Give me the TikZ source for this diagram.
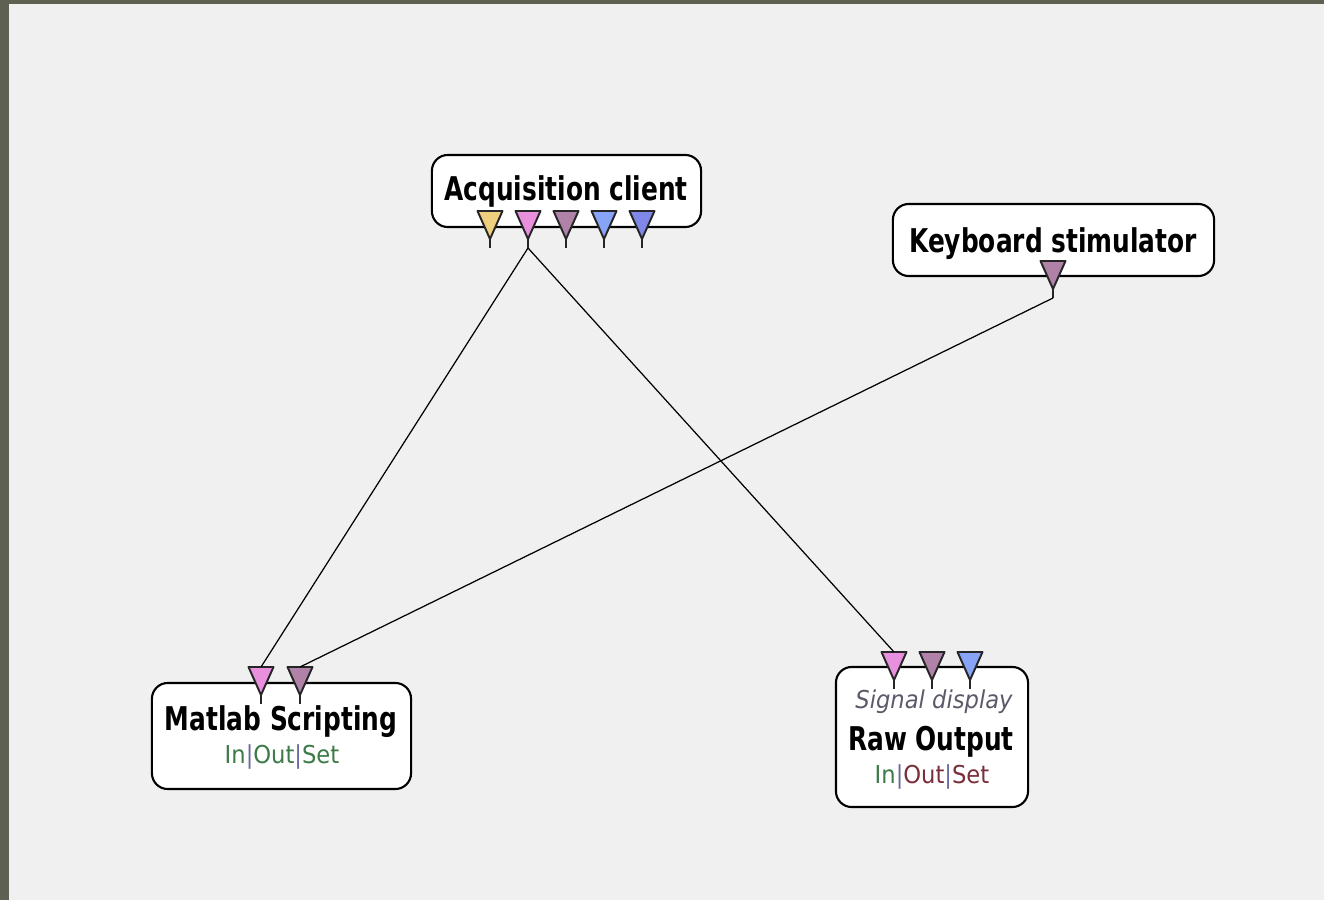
\documentclass[tikz,border=0pt]{standalone}
\usepackage{fontspec}
\newfontfamily\boxfont[FakeStretch=0.76]{DejaVu Sans}
\newfontfamily\tagfont[FakeStretch=0.92]{DejaVu Sans}
\definecolor{frame}{HTML}{5E6052}
\definecolor{canvas}{HTML}{F0F0F0}
\definecolor{sockyellow}{HTML}{EDCF7E}
\definecolor{sockpink}{HTML}{E890DE}
\definecolor{sockmauve}{HTML}{B082A8}
\definecolor{socksky}{HTML}{88A4F6}
\definecolor{sockblue}{HTML}{7F88E8}
\definecolor{tagok}{HTML}{3C7A48}
\definecolor{tagmod}{HTML}{7A2E3A}
\definecolor{tagbar}{HTML}{6A6AA0}
\definecolor{subgray}{HTML}{5A5A6A}
\tikzset{
  blockbox/.style={draw=black,line width=0.6pt,fill=white,rounded corners=4.5pt,inner sep=0pt},
  boxtitle/.style={font=\boxfont\bfseries\fontsize{9.3}{10}\selectfont,inner sep=0pt,anchor=base},
  boxtag/.style={font=\tagfont\fontsize{7}{8}\selectfont,inner sep=0pt,anchor=base},
  link/.style={draw=black,line width=0.35pt}
}
\newcommand{\sock}[4]{% name, x, top y, colour
  \filldraw[fill=#4,draw=black!85,line width=0.55pt,line join=round]
    (#2-12.5,#3) -- (#2+12.5,#3) -- (#2,#3+28) -- cycle;
  \draw[black!85,line width=0.5pt] (#2,#3+28) -- (#2,#3+37);
  \coordinate (#1-top) at (#2,#3);
  \coordinate (#1-end) at (#2,#3+37);
}
\newcommand{\ports}[2]{% colour of In, colour of Out and Set
  \textcolor{#1}{In}\textcolor{tagbar}{|}\textcolor{#2}{Out}\textcolor{tagbar}{|}\textcolor{#2}{Set}}
\begin{document}
\begin{tikzpicture}[x=0.01cm,y=-0.01cm]
  \fill[frame] (0,0) rectangle (1324,900);
  \fill[canvas] (9,4) rectangle (1324,900);

  \node[blockbox,minimum width=2.69cm,minimum height=0.72cm] (acq) at (566.5,191) {};
  \node[boxtitle] (acqname) at (566,200) {Acquisition client};
  \node[blockbox,minimum width=3.21cm,minimum height=0.72cm] (key) at (1053.5,240) {};
  \node[boxtitle] (keyname) at (1053,252) {Keyboard stimulator};
  \node[blockbox,minimum width=2.59cm,minimum height=1.06cm] (mat) at (281.5,736) {};
  \node[boxtitle] (matname) at (281,730) {Matlab Scripting};
  \node[boxtag] (matports) at (282,763) {\ports{tagok}{tagok}};
  \node[blockbox,minimum width=1.92cm,minimum height=1.40cm] (raw) at (932,737) {};
  \node[boxtag,text=subgray] (rawtype) at (934,708) {\itshape Signal display};
  \node[boxtitle] (rawname) at (931,750) {Raw Output};
  \node[boxtag] (rawports) at (932,783) {\ports{tagok}{tagmod}};

  \sock{acq1}{490}{211}{sockyellow}
  \sock{acq2}{528}{211}{sockpink}
  \sock{acq3}{566}{211}{sockmauve}
  \sock{acq4}{604}{211}{socksky}
  \sock{acq5}{642}{211}{sockblue}
  \sock{key1}{1053}{261}{sockmauve}
  \sock{mat1}{261}{667}{sockpink}
  \sock{mat2}{300}{667}{sockmauve}
  \sock{raw1}{894}{652}{sockpink}
  \sock{raw2}{932}{652}{sockmauve}
  \sock{raw3}{970}{652}{socksky}

  \draw[link] (acq2-end) -- (mat1-top);
  \draw[link] (acq2-end) -- (raw1-top);
  \draw[link] (key1-end) -- (mat2-top);
\end{tikzpicture}
\end{document}
